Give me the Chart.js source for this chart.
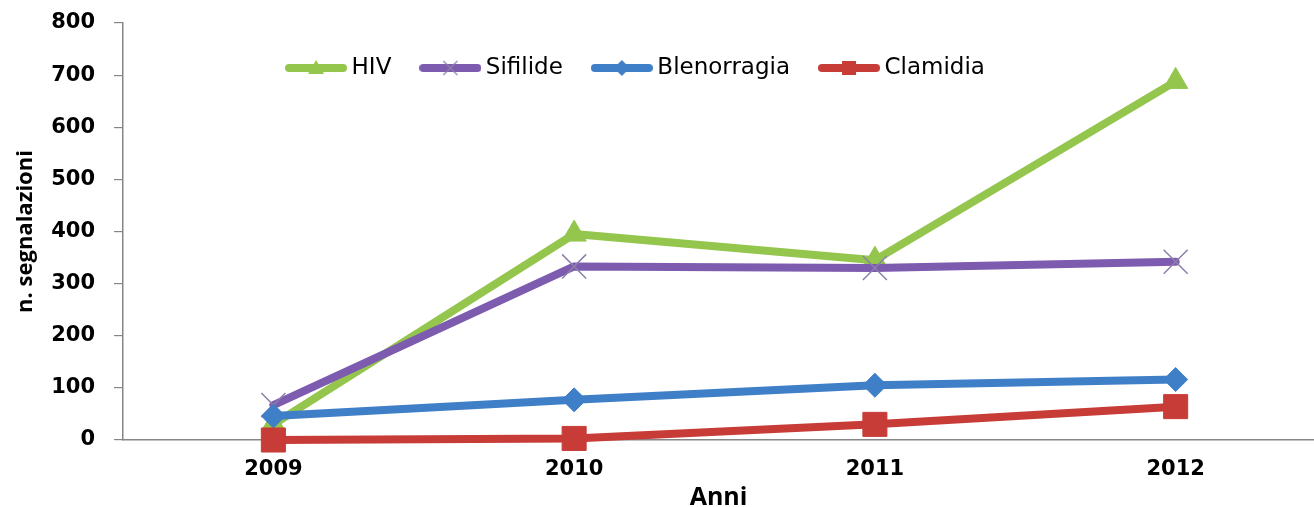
<!DOCTYPE html>
<html><head><meta charset="utf-8">
<script src="https://cdn.jsdelivr.net/npm/chart.js@4"></script>
<style>
html,body{margin:0;padding:0;background:#fff;overflow:hidden;width:1314px;height:507px}
#c{display:block}
</style></head>
<body><canvas id="c" width="1314" height="507" style="width:1314px;height:507px"></canvas>
<script>
// ---- data ----
const categories = ['2009', '2010', '2011', '2012'];
const seriesNames = ['HIV', 'Sifilide', 'Blenorragia', 'Clamidia'];
const hivValues = [30, 395, 345, 688];
const sifilideValues = [67, 333, 330, 342];
const blenorragiaValues = [46, 77, 105, 116];
const clamidiaValues = [0, 3, 30, 64];
const yTickValues = [0, 100, 200, 300, 400, 500, 600, 700, 800];
const xTitle = 'Anni';
const yTitle = 'n. segnalazioni';

// ---- styles ----
const colors = ['#94C64E', '#7D5BAE', '#3F7FC8', '#C83C37'];
const crossColor = '#8C80A8';
const pointStyles = ['triangle', 'crossRot', 'rectRot', 'rect'];
const pointRadii = [14, 17, 12, 17];
const allValues = [hivValues, sifilideValues, blenorragiaValues, clamidiaValues];
// the x axis is cut by the right edge of the picture (half a category minus a bit)
const X_MIN = -0.5, X_MAX = 3.46;

function makeIcon(i) {
  const c = document.createElement('canvas');
  c.width = 62; c.height = 26;
  const g = c.getContext('2d');
  const col = colors[i];
  g.strokeStyle = col; g.lineWidth = 8; g.lineCap = 'round';
  g.beginPath(); g.moveTo(4, 13); g.lineTo(58, 13); g.stroke();
  const cx = 31, cy = 13;
  g.fillStyle = col;
  if (i === 0) {
    g.beginPath(); g.moveTo(cx, cy - 8); g.lineTo(cx + 8, cy + 6); g.lineTo(cx - 8, cy + 6); g.closePath(); g.fill();
  } else if (i === 1) {
    g.strokeStyle = crossColor; g.lineWidth = 1.2; g.lineCap = 'butt';
    g.beginPath(); g.moveTo(cx - 7, cy - 7); g.lineTo(cx + 7, cy + 7);
    g.moveTo(cx + 7, cy - 7); g.lineTo(cx - 7, cy + 7); g.stroke();
  } else if (i === 2) {
    g.beginPath(); g.moveTo(cx, cy - 8); g.lineTo(cx + 8, cy); g.lineTo(cx, cy + 8); g.lineTo(cx - 8, cy); g.closePath(); g.fill();
  } else {
    g.fillRect(cx - 7, cy - 7, 14, 14);
  }
  return c;
}
const icons = seriesNames.map((_, i) => makeIcon(i));

const LEGEND_CENTER = 638.5;
const LEGEND_TOP = 21.5;
const legendInside = {
  id: 'legendInside',
  afterLayout(chart) {
    const lg = chart.legend;
    if (!lg) return;
    lg.left = 0; lg.right = LEGEND_CENTER * 2; lg.width = lg.right;
    lg.top = LEGEND_TOP; lg.bottom = LEGEND_TOP + 110; lg.height = 110;
  }
};

const datasets = seriesNames.map((name, i) => ({
  label: name,
  data: allValues[i].map((v, k) => ({ x: k, y: v })),
  borderColor: colors[i],
  backgroundColor: colors[i],
  borderWidth: 8,
  borderJoinStyle: 'round',
  borderCapStyle: 'round',
  tension: 0,
  pointStyle: pointStyles[i],
  pointRadius: pointRadii[i],
  pointBackgroundColor: colors[i],
  pointBorderColor: i === 1 ? crossColor : colors[i],
  pointBorderWidth: i === 1 ? 1.5 : 1,
  order: 4 - i,
  clip: false
}));

new Chart(document.getElementById('c'), {
  type: 'line',
  data: { datasets },
  plugins: [legendInside],
  options: {
    responsive: false,
    maintainAspectRatio: false,
    animation: false,
    events: [],
    layout: { autoPadding: false, padding: { top: 22, right: 0, bottom: 0, left: 0 } },
    plugins: {
      tooltip: { enabled: false },
      legend: {
        position: 'top',
        maxHeight: 1,
        labels: {
          usePointStyle: true,
          pointStyleWidth: 48,
          padding: 35,
          color: '#000',
          font: { family: 'DejaVu Sans', size: 23 },
          sort: (a, b) => a.datasetIndex - b.datasetIndex,
          generateLabels: (chart) => Chart.defaults.plugins.legend.labels.generateLabels(chart)
            .map((l) => Object.assign(l, { pointStyle: icons[l.datasetIndex] }))
        }
      }
    },
    scales: {
      x: {
        type: 'linear',
        min: X_MIN,
        max: X_MAX,
        afterBuildTicks: (s) => { s.ticks = categories.map((_, k) => ({ value: k })); },
        grid: { display: false, drawTicks: false },
        border: { display: true, color: '#868686', width: 1.5 },
        ticks: { color: '#000', padding: 17, autoSkip: false, maxRotation: 0,
          callback: (v) => categories[v],
          font: { family: 'DejaVu Sans', size: 21, weight: 'bold' } },
        title: { display: true, text: xTitle, color: '#000', padding: { top: 0, bottom: 0 },
          font: { family: 'Open Sans', size: 25, weight: 'bold', lineHeight: 0.7 } },
        afterFit: (s) => { s.height = 67; s.paddingLeft = 0; s.paddingRight = 0; }
      },
      y: {
        min: yTickValues[0],
        max: yTickValues[yTickValues.length - 1],
        afterBuildTicks: (s) => { s.ticks = yTickValues.map(v => ({ value: v })); },
        grid: { display: true, drawOnChartArea: false, drawTicks: true, tickLength: 9, color: '#868686', lineWidth: 1.2 },
        border: { display: true, color: '#868686', width: 1.5 },
        ticks: { color: '#000', padding: 19, font: { family: 'DejaVu Sans', size: 21, weight: 'bold' } },
        title: { display: true, text: yTitle, color: '#000', padding: { top: 12.8, bottom: 0 },
          font: { family: 'Open Sans', size: 22, weight: 'bold' } },
        afterFit: (s) => { s.width = 123; s.paddingTop = 0; s.paddingBottom = 0; }
      }
    }
  }
});
</script>
</body></html>
